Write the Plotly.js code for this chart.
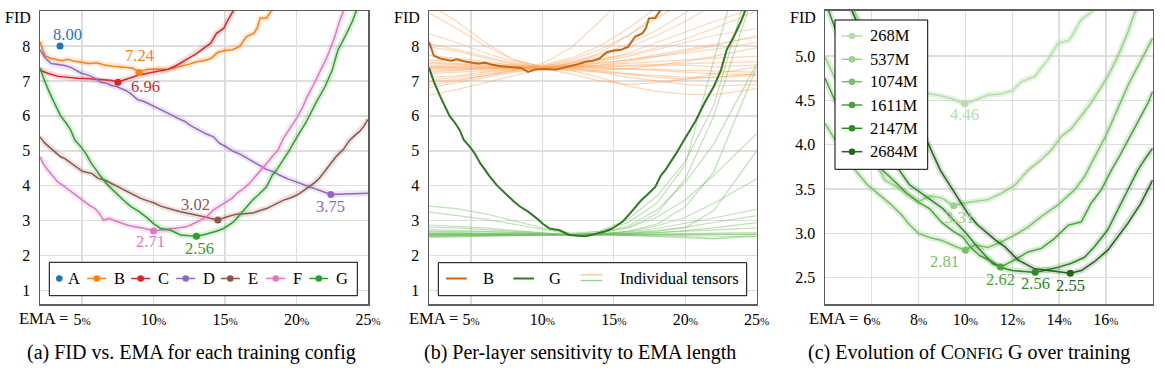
<!DOCTYPE html>
<html><head><meta charset="utf-8">
<script src="https://cdn.plot.ly/plotly-3.0.1.min.js"></script>
<style>html,body{margin:0;padding:0;background:#fff;}#chart{width:1165px;height:377px;}</style>
</head><body><div id="chart"></div>
<script>
// ---------------- DATA ----------------
// (a) FID vs EMA for each training config
const configs = ['A','B','C','D','E','F','G'];
const emaA = [3.46]; const fidA = [8.00];
const emaB = [2.06,2.4,2.8,3.2,3.6,4.0,4.5,5.0,5.5,6.0,6.5,7.0,7.5,8.0,8.5,9.0,9.5,10.0,10.5,11.0,11.5,12.0,12.5,13.0,13.5,14.0,14.5,15.0,15.5,16.0,16.5,17.0,17.25,17.45,17.9,18.3];
const fidB = [8.12,7.72,7.65,7.62,7.58,7.62,7.56,7.53,7.50,7.52,7.46,7.43,7.41,7.38,7.37,7.26,7.33,7.34,7.34,7.33,7.38,7.42,7.48,7.55,7.58,7.64,7.82,7.87,7.89,7.98,8.27,8.36,8.51,8.79,8.80,9.05];
const emaC = [2.06,2.6,3.3,4.0,4.7,5.5,6.0,6.6,7.0,7.5,8.0,8.5,9.0,9.6,10.3,11.0,11.5,12.0,12.5,13.0,13.5,14.0,14.4,14.9,15.2,15.6];
const fidC = [7.31,7.22,7.13,7.10,7.08,7.06,7.05,7.03,7.02,6.97,7.04,7.10,7.17,7.22,7.27,7.33,7.42,7.55,7.66,7.78,7.92,8.08,8.36,8.50,8.74,9.02];
const emaD = [2.06,2.5,2.85,3.3,3.8,4.25,4.6,4.95,5.3,5.65,6.0,6.35,6.7,7.05,7.4,7.75,8.1,8.45,8.9,9.3,9.6,10.0,10.3,10.8,11.25,11.7,12.2,12.6,13.1,13.7,14.2,14.6,15.1,15.6,16.1,16.5,17.0,17.5,17.9,18.4,18.8,19.4,20.0,20.5,20.9,21.3,21.6,22.0,22.4,22.9,23.4,24.0,24.5,25.0];
const fidD = [7.89,7.62,7.50,7.47,7.44,7.38,7.30,7.22,7.18,7.13,7.05,6.96,6.93,6.87,6.84,6.79,6.72,6.62,6.46,6.42,6.36,6.30,6.24,6.12,6.03,5.93,5.84,5.72,5.60,5.48,5.40,5.22,5.11,4.98,4.90,4.80,4.68,4.56,4.47,4.40,4.31,4.20,4.11,4.04,3.97,3.92,3.86,3.80,3.75,3.76,3.76,3.77,3.78,3.79];
const emaE = [2.06,2.4,2.8,3.1,3.5,3.8,4.2,4.6,5.0,5.4,5.7,6.1,6.6,7.0,7.5,8.2,8.7,9.1,9.6,10.1,10.5,11.0,11.5,11.9,12.4,12.9,13.3,13.7,14.1,14.5,15.1,15.5,15.8,16.4,17.0,17.5,17.9,18.5,19.1,19.6,20.0,20.5,20.9,21.3,21.6,22.2,22.8,23.3,23.7,24.1,24.4,24.7,25.0];
const fidE = [5.40,5.22,5.08,4.98,4.83,4.78,4.66,4.55,4.42,4.38,4.35,4.22,4.16,4.08,3.97,3.83,3.72,3.64,3.57,3.50,3.42,3.35,3.30,3.26,3.22,3.18,3.15,3.10,3.06,3.02,3.11,3.16,3.19,3.20,3.23,3.30,3.35,3.47,3.59,3.66,3.73,3.86,3.97,4.10,4.22,4.52,4.85,5.05,5.30,5.45,5.55,5.70,5.90];
const emaF = [2.06,2.3,2.6,3.0,3.3,3.8,4.25,4.7,5.2,5.5,5.9,6.2,6.5,6.9,7.3,7.75,8.2,8.7,9.0,9.4,10.0,10.4,10.8,11.2,11.7,12.2,12.6,13.1,13.6,14.2,14.6,15.1,15.5,15.8,16.3,16.7,17.1,17.4,17.8,18.1,18.4,18.7,19.1,19.5,20.0,20.4,20.7,21.1,21.4,21.8,22.1,22.6,23.0,23.3];
const fidF = [4.83,4.62,4.45,4.25,4.11,3.97,3.83,3.68,3.54,3.45,3.35,3.22,3.02,3.07,3.00,2.93,2.87,2.83,2.81,2.78,2.71,2.73,2.73,2.76,2.78,2.82,2.88,2.97,3.08,3.31,3.42,3.54,3.65,3.78,3.92,4.07,4.25,4.40,4.57,4.73,4.89,5.02,5.37,5.62,5.93,6.22,6.51,6.82,7.08,7.38,7.65,8.17,8.70,9.02];
const emaG = [2.06,2.4,2.85,3.3,3.5,3.9,4.2,4.5,4.95,5.3,5.65,6.0,6.25,6.8,7.1,7.5,8.0,8.45,9.0,9.6,10.0,10.5,11.2,11.6,11.9,12.5,13.0,13.5,13.9,14.4,14.9,15.3,15.6,16.0,16.5,16.9,17.3,17.9,18.3,18.6,19.0,19.4,20.0,20.7,21.4,22.0,22.5,22.9,23.4,23.9,24.2];
const fidG = [7.38,6.98,6.55,6.17,6.00,5.79,5.60,5.31,5.10,4.90,4.64,4.45,4.30,4.02,3.90,3.73,3.55,3.40,3.26,3.07,2.92,2.78,2.73,2.65,2.59,2.57,2.56,2.60,2.64,2.70,2.78,2.88,2.97,3.15,3.40,3.58,3.73,3.97,4.30,4.45,4.70,4.95,5.37,5.84,6.41,6.84,7.31,7.89,8.27,8.70,9.02];
const minEmaA = [3.46,8.98,7.51,22.4,14.5,10.0,13.0];
const minFidA = [8.00,7.24,6.96,3.75,3.02,2.71,2.56];

// (b) per-layer sensitivity: individual tensors (B orange, G green)
const tensorEma = [2.06,4,6,8,10,12,14,16,18,20,22,25];
const tensorsB = [
 [8.95,8.5,8.0,7.6,7.4,7.45,7.6,7.8,8.1,8.4,8.7,9.1],
 [8.35,8.1,7.8,7.55,7.38,7.5,7.8,8.3,8.9,9.5,10.1,11.0],
 [8.07,7.9,7.7,7.5,7.4,7.45,7.5,7.6,7.7,7.8,7.9,8.1],
 [7.97,7.85,7.65,7.48,7.35,7.3,7.25,7.2,7.15,7.1,7.1,7.15],
 [7.73,7.65,7.55,7.45,7.38,7.4,7.45,7.55,7.7,7.85,8.0,8.3],
 [7.54,7.5,7.45,7.42,7.4,7.42,7.45,7.5,7.55,7.6,7.65,7.7],
 [7.45,7.45,7.42,7.4,7.38,7.4,7.42,7.45,7.48,7.5,7.52,7.55],
 [7.42,7.42,7.4,7.38,7.4,7.42,7.4,7.42,7.45,7.45,7.4,7.45],
 [7.4,7.4,7.38,7.38,7.4,7.38,7.36,7.35,7.33,7.3,7.28,7.25],
 [7.38,7.38,7.36,7.37,7.42,7.5,7.6,7.75,7.95,8.2,8.5,9.0],
 [7.35,7.35,7.35,7.38,7.45,7.65,8.0,8.5,9.1,9.7,10.3,11.2],
 [7.3,7.32,7.34,7.36,7.4,7.4,7.38,7.35,7.3,7.25,7.2,7.18],
 [7.21,7.25,7.3,7.35,7.38,7.35,7.25,7.1,7.0,6.9,6.85,6.9],
 [7.1,7.15,7.25,7.33,7.4,7.38,7.3,7.2,7.1,7.05,7.1,7.2],
 [7.02,7.1,7.2,7.3,7.42,7.6,7.9,8.3,8.8,9.3,9.8,10.5],
 [6.88,7.0,7.15,7.28,7.38,7.3,7.1,6.85,6.7,6.62,6.6,6.78],
 [6.59,6.75,6.95,7.15,7.35,7.5,7.7,7.95,8.3,8.7,9.2,9.9],
 [6.8,6.95,7.1,7.25,7.38,7.45,7.55,7.7,7.9,8.1,8.3,8.5],
 [9.2,8.7,8.1,7.6,7.4,7.35,7.3,7.35,7.45,7.55,7.7,7.95],
 [7.5,7.48,7.45,7.4,7.35,7.2,7.0,6.9,6.95,7.05,7.2,7.4],
 [7.25,7.3,7.35,7.38,7.42,7.55,7.75,8.05,8.45,8.95,9.5,10.3],
 [7.6,7.55,7.5,7.45,7.4,7.42,7.5,7.6,7.75,7.9,8.05,8.25],
 [6.95,7.05,7.15,7.3,7.5,7.95,8.7,9.5,10.3,11.0,11.5,12.0]
];
const tensorsG = [
 [3.42,3.35,3.2,3.0,2.8,2.65,2.7,3.05,3.7,4.7,6.3,10.5],
 [3.25,3.15,3.05,2.9,2.75,2.62,2.65,2.85,3.3,4.1,5.2,7.5],
 [2.88,2.85,2.8,2.72,2.65,2.6,2.65,2.8,3.1,3.6,4.3,5.5],
 [2.82,2.8,2.75,2.7,2.65,2.6,2.62,2.7,2.85,3.1,3.5,4.2],
 [2.75,2.73,2.7,2.67,2.63,2.6,2.6,2.62,2.66,2.72,2.8,2.95],
 [2.7,2.7,2.68,2.66,2.63,2.6,2.62,2.68,2.78,2.92,3.08,3.33],
 [2.65,2.64,2.63,2.62,2.61,2.6,2.61,2.64,2.7,2.8,3.3,5.0],
 [2.62,2.62,2.61,2.61,2.6,2.6,2.6,2.61,2.62,2.63,2.64,2.66],
 [2.6,2.6,2.6,2.6,2.6,2.6,2.6,2.6,2.61,2.61,2.62,2.62],
 [2.58,2.59,2.59,2.6,2.6,2.6,2.6,2.6,2.6,2.6,2.6,2.61],
 [2.56,2.57,2.58,2.59,2.6,2.6,2.6,2.59,2.58,2.57,2.56,2.55],
 [2.55,2.56,2.57,2.58,2.59,2.6,2.6,2.58,2.55,2.52,2.48,2.55],
 [2.52,2.54,2.56,2.58,2.6,2.6,2.61,2.63,2.66,2.7,2.75,2.8],
 [2.62,2.62,2.62,2.62,2.6,2.6,2.65,2.8,3.2,4.2,6.0,9.8],
 [2.6,2.61,2.61,2.61,2.61,2.6,2.62,2.7,2.9,3.4,4.4,7.4],
 [2.64,2.63,2.62,2.61,2.6,2.6,2.7,2.95,3.5,4.6,7.6,12.0],
 [2.68,2.66,2.64,2.62,2.6,2.6,2.62,2.66,2.72,2.82,2.95,3.15],
 [2.57,2.58,2.59,2.6,2.6,2.6,2.59,2.57,2.56,2.55,2.5,2.6]
];

// (c) evolution of config G over training
const runs = ['268M','537M','1074M','1611M','2147M','2684M'];
const ema268 = [4.9,5.3,5.7,6.2,6.7,7.2,7.7,8.3,8.8,9.4,9.97,10.4,10.96,11.5,12.0,12.4,12.96,13.5,13.95,14.45,14.95,15.4,15.9];
const fid268 = [5.75,5.48,5.3,5.12,4.97,4.84,4.72,4.58,4.56,4.52,4.46,4.5,4.56,4.57,4.61,4.71,4.77,4.95,5.14,5.18,5.41,5.5,5.65];
const ema537 = [4.0,4.5,5.0,5.5,6.05,6.56,7.27,7.98,8.5,8.98,9.5,9.83,10.4,10.96,11.53,12.1,12.67,13.24,13.67,14.09,14.52,14.95,15.37,15.8,16.08,16.5,16.93,17.22,17.5];
const fid537 = [4.99,4.7,4.42,4.15,3.85,3.60,3.49,3.36,3.42,3.40,3.31,3.34,3.36,3.38,3.45,3.54,3.71,3.83,3.94,4.09,4.18,4.32,4.47,4.65,4.77,4.99,5.26,5.48,5.6];
const ema1074 = [4.0,4.6,5.3,5.8,6.3,6.8,7.3,7.6,8.0,8.5,9.0,9.5,10.0,10.4,10.96,11.5,12.1,12.67,13.24,13.95,14.66,15.09,15.5,16.0,16.5,17.0,17.5,18.0];
const fid1074 = [4.24,3.98,3.71,3.55,3.44,3.33,3.2,3.1,3.0,2.95,2.92,2.86,2.81,2.87,2.84,2.9,2.98,3.07,3.19,3.32,3.49,3.64,3.85,4.1,4.4,4.7,4.95,5.2];
const ema1611 = [4.0,4.5,5.0,5.5,6.0,6.47,7.0,7.5,8.0,8.46,9.0,9.5,9.88,10.2,10.6,11.16,11.5,12.1,12.67,13.24,13.8,14.38,14.95,15.37,15.8,16.23,16.6,17.0,17.4,17.8,18.0];
const fid1611 = [4.75,4.45,4.2,4.0,3.85,3.71,3.58,3.45,3.35,3.28,3.12,3.02,2.96,2.85,2.75,2.68,2.62,2.70,2.79,2.83,2.94,3.09,3.13,3.34,3.49,3.71,3.88,4.08,4.28,4.47,4.6];
const ema2147 = [4.1,4.5,5.0,5.5,6.0,6.6,7.18,7.6,8.1,8.5,9.03,9.5,10.03,10.5,11.16,11.6,12.0,12.5,12.98,13.5,14.0,14.5,15.09,15.51,16.08,16.5,16.93,17.36,17.7,18.0];
const fid2147 = [5.55,5.25,4.9,4.6,4.3,4.0,3.71,3.55,3.45,3.38,3.28,3.15,3.0,2.85,2.66,2.61,2.58,2.57,2.56,2.59,2.62,2.66,2.73,2.85,3.04,3.26,3.49,3.71,3.85,3.96];
const ema2684 = [5.0,5.5,6.0,6.5,7.0,7.5,8.0,8.34,8.93,9.4,10.11,10.5,10.96,11.3,11.68,12.24,12.96,13.67,14.0,14.48,14.95,15.51,16.08,16.5,16.93,17.5,17.93,18.0];
const fid2684 = [5.6,5.3,5.05,4.8,4.6,4.4,4.2,4.05,3.71,3.52,3.22,3.1,3.0,2.92,2.85,2.7,2.6,2.58,2.57,2.55,2.58,2.68,2.81,2.96,3.11,3.34,3.56,3.6];
const minEmaC = [9.97,9.5,10.0,11.5,12.98,14.48];
const minFidC = [4.46,3.31,2.81,2.62,2.56,2.55];

// tick values
const xTicksA = [5,10,15,20,25];
const yTicksA = [1,2,3,4,5,6,7,8];
const xTicksC = [6,8,10,12,14,16];
const yTicksC = [2.5,3.0,3.5,4.0,4.5,5.0];

// ---------------- STYLE ----------------
const W = 1165, H = 377;
const PX = v => v / W, PY = v => 1 - v / H;
const FONT = 'Liberation Serif';
const colA = {A:'#1f77b4',B:'#ff7f0e',C:'#d62728',D:'#9467bd',E:'#8c564b',F:'#e377c2',G:'#2ca02c'};
const colC = ['#b5deaa','#98d189','#78c068','#4aa33c','#2e8a27','#21661c'];
const bandC = ['rgba(181,222,170,0.35)','rgba(152,209,137,0.3)','rgba(120,192,104,0.25)','rgba(74,163,60,0.2)','rgba(46,138,39,0.2)','rgba(33,102,28,0.2)'];
const colBdark = '#c8650f', colGdark = '#2d7a22';

const hexA = (h, a) => { const n = parseInt(h.slice(1), 16); return `rgba(${n>>16},${(n>>8)&255},${n&255},${a})`; };

const traces = [];
function addLine(x, y, color, width, xa, ya, band) {
  if (band) traces.push({x, y, xaxis: xa, yaxis: ya, mode: 'lines', line: {color: band, width: 6}, hoverinfo: 'skip'});
  traces.push({x, y, xaxis: xa, yaxis: ya, mode: 'lines', line: {color, width}, hoverinfo: 'skip'});
}

// panel (a)
const dataA = {B:[emaB,fidB],C:[emaC,fidC],D:[emaD,fidD],E:[emaE,fidE],F:[emaF,fidF],G:[emaG,fidG]};
['B','C','D','E','F','G'].forEach(k => addLine(dataA[k][0], dataA[k][1], colA[k], 1.5, 'x', 'y', hexA(colA[k], 0.17)));
traces.push({x: minEmaA, y: minFidA, xaxis: 'x', yaxis: 'y', mode: 'markers',
  marker: {size: 7, color: configs.map(c => colA[c])}, hoverinfo: 'skip'});

// panel (b)
tensorsB.forEach(t => addLine(tensorEma, t, 'rgba(255,165,95,0.45)', 1.2, 'x2', 'y2'));
tensorsG.forEach(t => addLine(tensorEma, t, 'rgba(110,190,95,0.45)', 1.2, 'x2', 'y2'));
addLine(emaB, fidB, colBdark, 2, 'x2', 'y2');
addLine(emaG, fidG, colGdark, 2, 'x2', 'y2');

// panel (c)
const dataC = [[ema268,fid268],[ema537,fid537],[ema1074,fid1074],[ema1611,fid1611],[ema2147,fid2147],[ema2684,fid2684]];
dataC.forEach((d, i) => addLine(d[0], d[1], colC[i], 1.5, 'x3', 'y3', bandC[i]));
traces.push({x: minEmaC, y: minFidC, xaxis: 'x3', yaxis: 'y3', mode: 'markers',
  marker: {size: 7, color: colC}, hoverinfo: 'skip'});

// axes
const pct = v => v + '<span style="font-size:11px">%</span>';
const baseAx = {showline: true, mirror: true, linecolor: '#5e5e5e', linewidth: 1.5, showgrid: true,
  gridcolor: '#dedede', gridwidth: 1.3, zeroline: false, ticks: '',
  tickfont: {family: FONT, size: 16, color: '#000'}, fixedrange: true};
const xAx = {...baseAx, ticklabelstandoff: 0};
const yAx = {...baseAx, ticklabelstandoff: 5};
const yDom = [PY(304), PY(11)];
const layout = {
  width: W, height: H, margin: {l: 0, r: 0, t: 0, b: 0}, showlegend: false,
  paper_bgcolor: '#fff', plot_bgcolor: '#fff', font: {family: FONT, color: '#000'},
  xaxis: {...xAx, domain: [PX(40), PX(368)], range: [2.06, 25], tickvals: xTicksA, ticktext: xTicksA.map(pct), anchor: 'y'},
  yaxis: {...yAx, domain: yDom, range: [0.62, 9.0], tickvals: yTicksA, ticktext: yTicksA.map(String), anchor: 'x'},
  xaxis2: {...xAx, domain: [PX(429), PX(756.7)], range: [2.06, 25], tickvals: xTicksA, ticktext: xTicksA.map(pct), anchor: 'y2'},
  yaxis2: {...yAx, domain: yDom, range: [0.62, 9.0], tickvals: yTicksA, ticktext: yTicksA.map(String), anchor: 'x2'},
  xaxis3: {...xAx, domain: [PX(825), PX(1152.7)], range: [4, 18], tickvals: xTicksC, ticktext: xTicksC.map(pct), anchor: 'y3'},
  yaxis3: {...yAx, domain: [PY(304.3), PY(10.7)], range: [2.2, 5.51], tickvals: yTicksC, ticktext: yTicksC.map(v => v.toFixed(1)), anchor: 'x3'},
  shapes: [], annotations: []
};

const ann = layout.annotations, shp = layout.shapes;
function txt(x, y, text, size, xanchor, color) {
  ann.push({xref: 'paper', yref: 'paper', x: PX(x), y: PY(y), text, showarrow: false,
    xanchor: xanchor || 'center', yanchor: 'middle', font: {family: FONT, size, color: color || '#000'}});
}
// FID labels, EMA = prefixes, captions
[32.7, 422.3, 818.3].forEach(x => txt(x, 17, 'FID', 16, 'right'));
[70, 459.5, 859.5].forEach(x => txt(x, 318, 'EMA =', 16.5, 'right'));
txt(191.8, 352, '(a) FID vs. EMA for each training config', 20);
txt(579.5, 352, '(b) Per-layer sensitivity to EMA length', 20);
txt(969, 352, '(c) Evolution of C<span style="font-size:16px">ONFIG</span> G over training', 20);

// value labels (a)
const shiftA = [[7.5,11.5],[0.7,17],[27.7,-3.7],[0,-12],[-22,15.7],[-3,-11],[3,-12.3]];
minEmaA.forEach((x, i) => ann.push({xref: 'x', yref: 'y', x, y: minFidA[i], text: minFidA[i].toFixed(2),
  showarrow: false, xshift: shiftA[i][0], yshift: shiftA[i][1], font: {family: FONT, size: 16.5, color: colA[configs[i]]}}));
// value labels (c)
const shiftC = [[0,-11],[5.5,-12],[-21,-11.7],[0,-12.3],[0,-11.6],[0,-12]];
minEmaC.forEach((x, i) => ann.push({xref: 'x3', yref: 'y3', x, y: minFidC[i], text: minFidC[i].toFixed(2),
  showarrow: false, xshift: shiftC[i][0], yshift: shiftC[i][1], font: {family: FONT, size: 16.5, color: colC[i]}}));

// legend helpers
function box(x0, y0, x1, y1) {
  shp.push({type: 'rect', xref: 'paper', yref: 'paper', x0: PX(x0), x1: PX(x1), y0: PY(y1), y1: PY(y0),
    line: {color: '#000', width: 1}, fillcolor: '#fff', layer: 'above'});
}
function seg(x0, x1, y, color, w) {
  shp.push({type: 'line', xref: 'paper', yref: 'paper', x0: PX(x0), x1: PX(x1), y0: PY(y), y1: PY(y), line: {color, width: w || 1.5}});
}
function dot(cx, cy, color) {
  const r = 3.3;
  shp.push({type: 'circle', xref: 'paper', yref: 'paper', x0: PX(cx - r), x1: PX(cx + r), y0: PY(cy + r), y1: PY(cy - r), fillcolor: color, line: {width: 0}});
}
// legend (a)
box(49.3, 262.3, 357.3, 295.7);
const legAx = [59.3, 96.7, 140.7, 185.7, 230.3, 275.7, 318.8];
configs.forEach((c, i) => {
  const cx = legAx[i], cy = 278.5;
  if (i > 0) seg(cx - 9.5, cx + 9.5, cy, colA[c]);
  dot(cx, cy, colA[c]);
  txt(i === 0 ? cx + 7 : cx + 15.5, cy, c, 16.5, 'left');
});
// legend (b)
box(438.3, 262.7, 746.7, 295.7);
seg(446, 466.7, 278.5, colBdark, 2); txt(480.7, 278.5, 'B', 16.5, 'left');
seg(513.3, 534, 278.5, colGdark, 2); txt(546.7, 278.5, 'G', 16.5, 'left');
seg(580.7, 602.3, 274.8, 'rgba(255,165,95,0.7)', 1.3);
seg(580.7, 602.3, 280.5, 'rgba(110,190,95,0.7)', 1.3);
txt(617.7, 278.5, 'Individual tensors', 16.5, 'left');
// legend (c)
box(835, 20, 927.7, 169.3);
const legCy = [36, 59.3, 81.7, 105, 128.3, 151.7];
runs.forEach((r, i) => {
  seg(841.7, 862.3, legCy[i], colC[i]);
  dot(852, legCy[i], colC[i]);
  txt(867.7, legCy[i], r, 16.5, 'left');
});

Plotly.newPlot('chart', traces, layout, {staticPlot: true, displayModeBar: false});
</script></body></html>
